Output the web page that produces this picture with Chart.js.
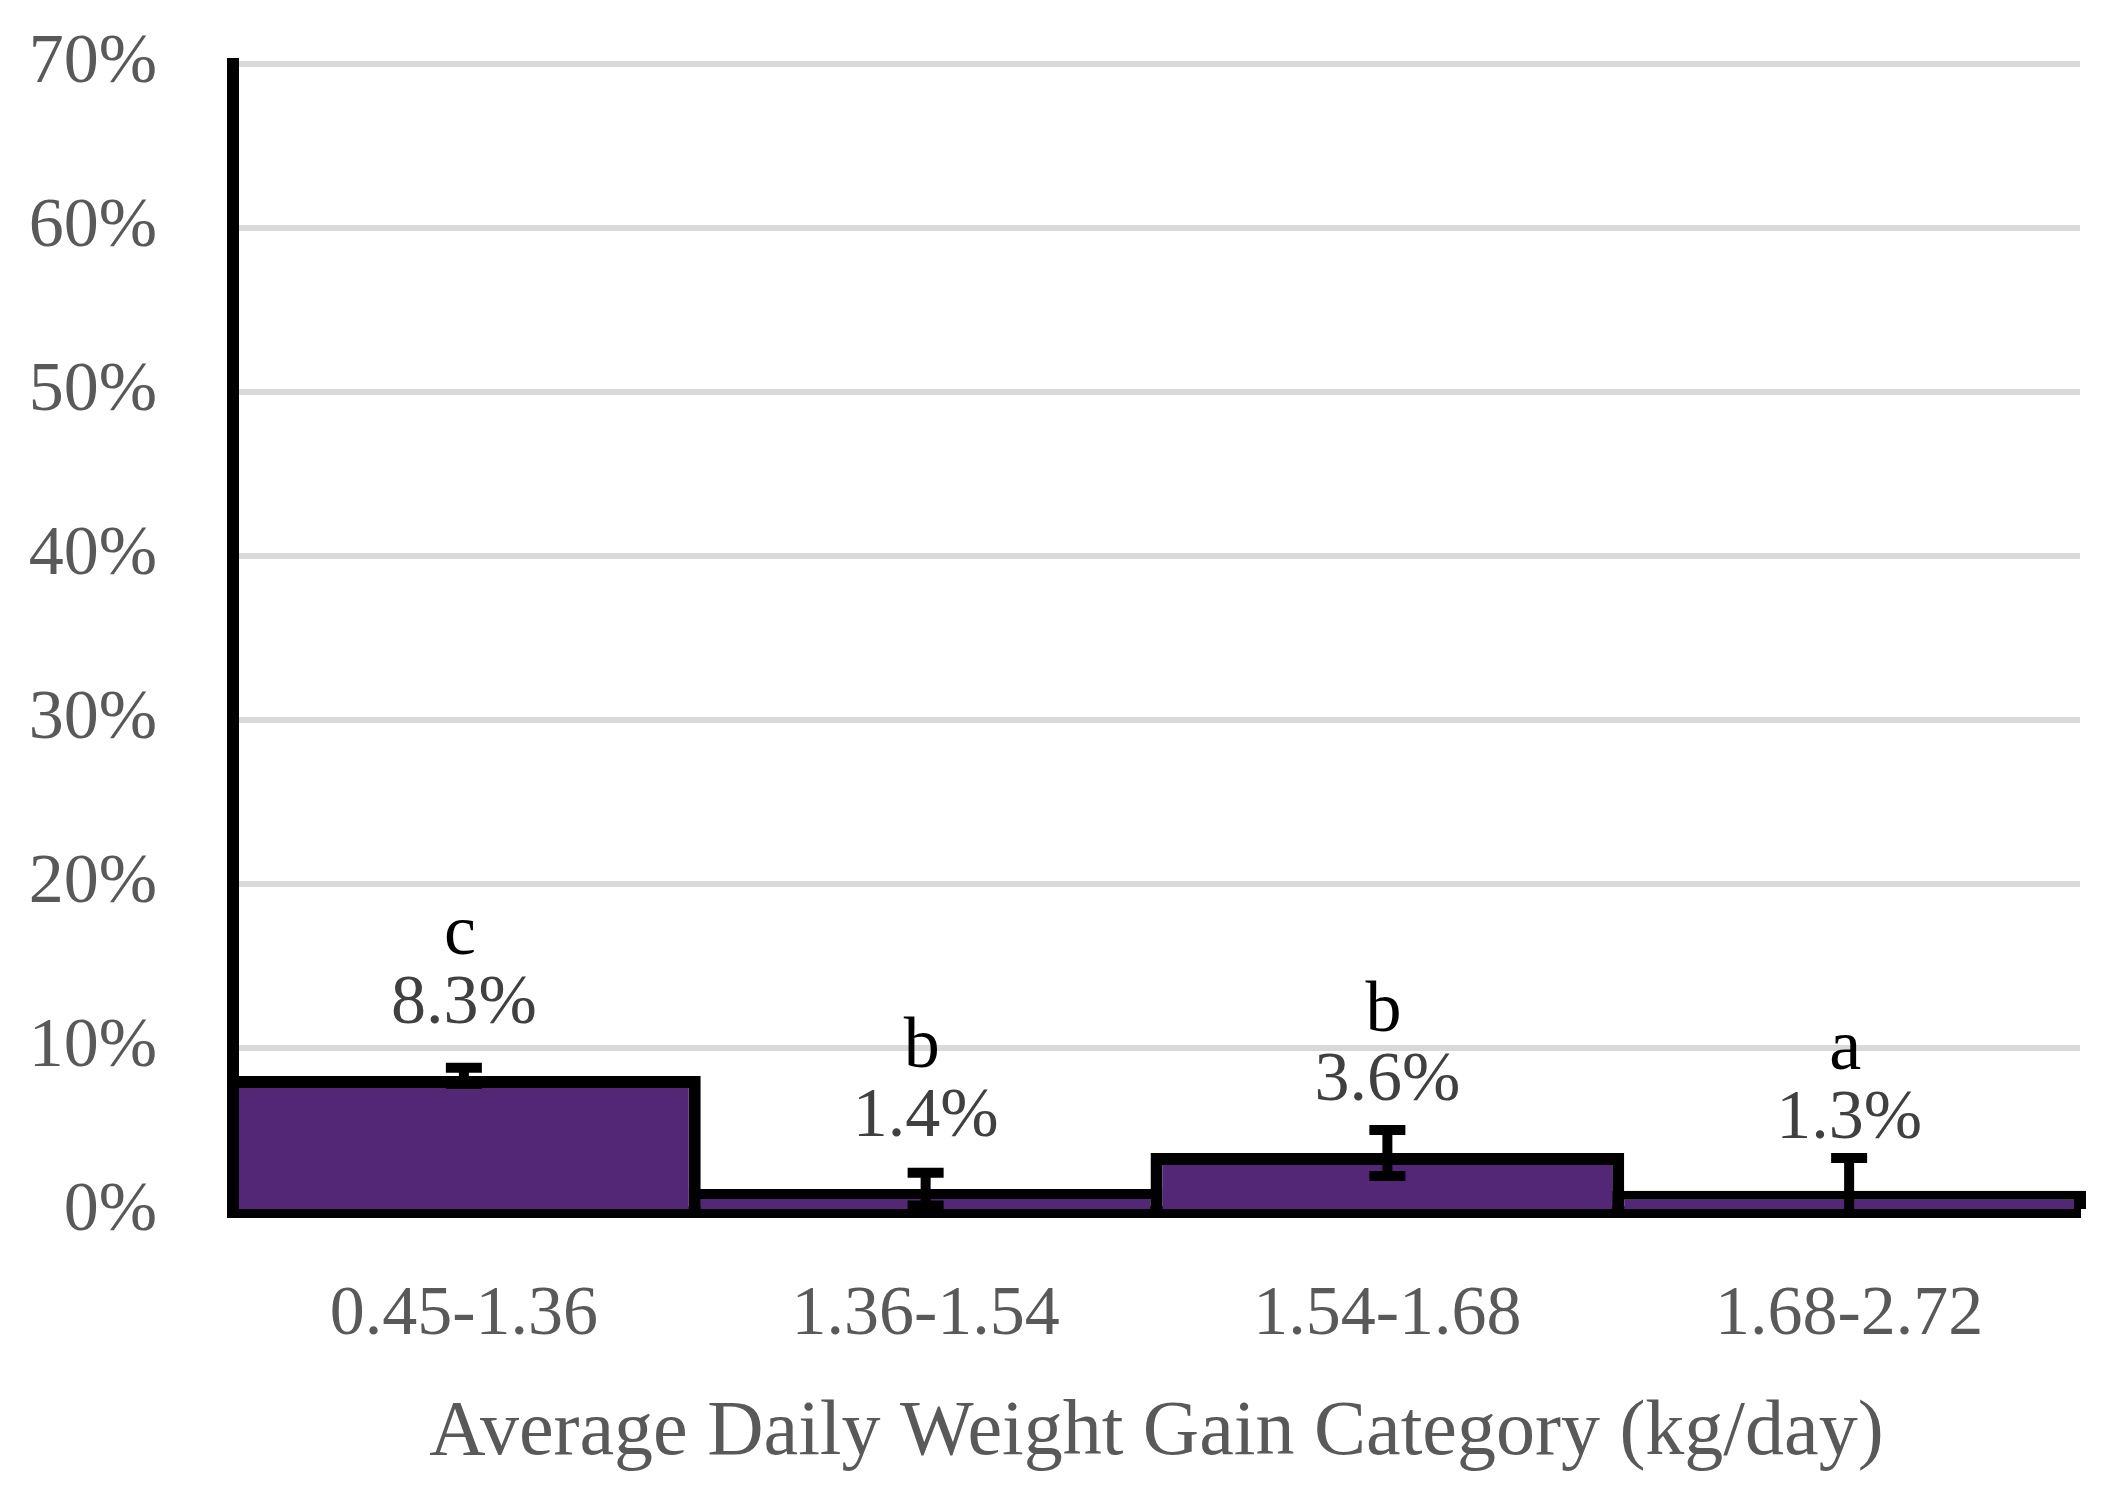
<html>

<head>
    <title>ADG bars</title>
    <script src="https://cdn.jsdelivr.net/npm/chart.js@4.4.0/dist/chart.umd.min.js"></script>
    <style>
        body { margin: 0; background: #fff; }
    </style>
</head>

<body>
    <canvas id="plotCanvas" width="2124" height="1497"></canvas>
    <script>
        // ========= Data ===============================
        const categories = ['0.45-1.36', '1.36-1.54', '1.54-1.68', '1.68-2.72']
        const values = [8.3, 1.4, 3.6, 1.3]
        const errors = [0.5, 1.0, 1.4, 2.0]
        const letters = ['c', 'b', 'b', 'a']
        const yMax = 70
        const yStep = 10

        const serif = "'Liberation Serif', 'Times New Roman', serif"

        // ========= Error bars + labels ==========
        const annotate = {
            id: 'annotate',
            afterDatasetsDraw(chart) {
                const { ctx, chartArea } = chart
                const x = chart.scales.x
                const y = chart.scales.y
                ctx.save()
                ctx.beginPath()
                ctx.rect(chartArea.left, chartArea.top, chartArea.right - chartArea.left, chartArea.bottom - chartArea.top)
                ctx.clip()
                ctx.strokeStyle = '#000'
                ctx.lineWidth = 10
                values.forEach((v, i) => {
                    const cx = x.getPixelForValue(i)
                    const hi = y.getPixelForValue(v + errors[i])
                    const lo = y.getPixelForValue(v - errors[i])
                    ctx.beginPath()
                    ctx.moveTo(cx, hi)
                    ctx.lineTo(cx, lo)
                    ctx.moveTo(cx - 18, hi)
                    ctx.lineTo(cx + 18, hi)
                    ctx.moveTo(cx - 18, lo)
                    ctx.lineTo(cx + 18, lo)
                    ctx.stroke()
                })
                ctx.restore()
            },
            afterDraw(chart) {
                const { ctx } = chart
                const x = chart.scales.x
                const y = chart.scales.y
                ctx.save()
                ctx.textAlign = 'center'
                ctx.textBaseline = 'alphabetic'
                values.forEach((v, i) => {
                    const cx = x.getPixelForValue(i)
                    const top = y.getPixelForValue(v)
                    ctx.font = `70px ${serif}`
                    ctx.fillStyle = '#404040'
                    ctx.fillText(v.toFixed(1) + '%', cx, top - 53)
                    ctx.font = `72px ${serif}`
                    ctx.fillStyle = '#000'
                    ctx.fillText(letters[i], cx - 4, top - 122)
                })
                ctx.restore()
            },
        }

        // =========== Chart setup ===========
        const canvas = document.getElementById('plotCanvas')
        const chart = new Chart(canvas, {
            type: 'bar',
            data: {
                labels: categories,
                datasets: [
                    {
                        data: values,
                        backgroundColor: '#542676',
                        borderColor: '#000',
                        borderWidth: 12,
                        barPercentage: 1.026,
                        categoryPercentage: 1,
                        clip: false,
                    },
                ],
            },
            options: {
                responsive: false,
                devicePixelRatio: 1,
                animation: false,
                layout: { padding: { top: 64, right: 44, bottom: 0, left: 0 } },
                plugins: {
                    legend: { display: false },
                    tooltip: { enabled: false },
                },
                scales: {
                    x: {
                        z: 1,
                        grid: { display: false, drawTicks: false },
                        border: { display: true, color: '#000', width: 12 },
                        ticks: {
                            padding: 62,
                            color: '#595959',
                            font: { family: serif, size: 70 },
                        },
                        title: {
                            display: true,
                            text: 'Average Daily Weight Gain Category (kg/day)',
                            color: '#595959',
                            font: { family: serif, size: 78 },
                            padding: { top: 0, bottom: 17 },
                        },
                        afterFit(scale) {
                            scale.height = 285
                            scale.paddingLeft = 0
                            scale.paddingRight = 0
                        },
                    },
                    y: {
                        min: 0,
                        max: yMax,
                        grid: { color: '#d9d9d9', lineWidth: 6, drawTicks: false },
                        border: { display: true, color: '#000', width: 12 },
                        ticks: {
                            stepSize: yStep,
                            padding: 76,
                            color: '#595959',
                            font: { family: serif, size: 70 },
                            callback: v => v + '%',
                        },
                        afterFit(scale) {
                            scale.width = 233
                            scale.paddingTop = 0
                            scale.paddingBottom = 0
                        },
                    },
                },
            },
            plugins: [annotate],
        })
    </script>
</body>

</html>
